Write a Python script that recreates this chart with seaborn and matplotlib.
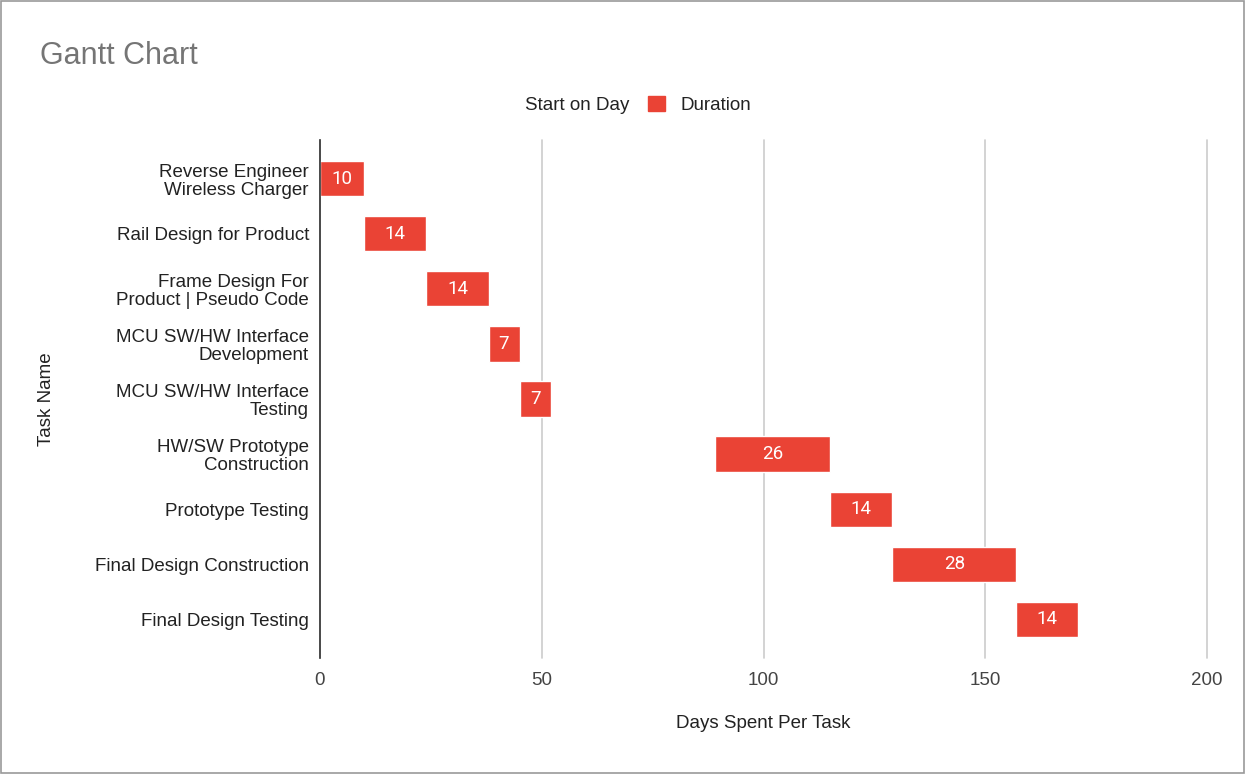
import matplotlib
matplotlib.use("Agg")
import matplotlib.pyplot as plt
import seaborn as sns
import pandas as pd
from matplotlib.patches import Patch, Rectangle

tasks = [
    "Reverse Engineer\nWireless Charger",
    "Rail Design for Product",
    "Frame Design For\nProduct | Pseudo Code",
    "MCU SW/HW Interface\nDevelopment",
    "MCU SW/HW Interface\nTesting",
    "HW/SW Prototype\nConstruction",
    "Prototype Testing",
    "Final Design Construction",
    "Final Design Testing",
]
start_day = [0, 10, 24, 38, 45, 89, 115, 129, 157]
duration = [10, 14, 14, 7, 7, 26, 14, 28, 14]
x_ticks = [0, 50, 100, 150, 200]

RED = "#EA4335"

df = pd.DataFrame({"Task Name": tasks, "Start on Day": start_day, "Duration": duration})

sns.set_theme(style="white")
plt.rcParams["font.family"] = ["Liberation Sans", "DejaVu Sans"]

fig = plt.figure(figsize=(12.45, 7.74), dpi=100)
ax = fig.add_axes([320 / 1245, 1 - 658 / 774, 887 / 1245, (658 - 140) / 774])

sns.barplot(data=df, x="Duration", y="Task Name", orient="h", color=RED,
            left=df["Start on Day"].values, width=0.64, ax=ax, saturation=1,
            estimator="sum", errorbar=None, zorder=3)

for i, (s, d) in enumerate(zip(start_day, duration)):
    ax.text(s + d / 2, i, str(d), ha="center", va="center", color="white",
            fontsize=13.5, family=["Roboto", "DejaVu Sans"], zorder=4)

ax.set_xlim(0, 200)
ax.set_ylim(8.7, -0.7)
ax.set_xticks(x_ticks)
ax.set_xticklabels([str(t) for t in x_ticks])
ax.xaxis.grid(True, color="#cccccc", linewidth=1.2, zorder=0)
for gl in ax.get_xgridlines():
    gl.set_clip_on(False)
ax.yaxis.grid(False)
for sp in ["top", "right", "bottom"]:
    ax.spines[sp].set_visible(False)
ax.spines["left"].set_color("#333333")
ax.spines["left"].set_linewidth(1.2)
ax.spines["left"].set_zorder(5)
ax.tick_params(axis="both", length=0, labelsize=13.5, colors="#222222")
ax.tick_params(axis="x", pad=10, colors="#444444")
ax.tick_params(axis="y", pad=8)
for lbl in ax.get_yticklabels():
    lbl.set_linespacing(1.1)

ax.set_xlabel("Days Spent Per Task", fontsize=13.5, color="#222222")
ax.xaxis.set_label_coords(0.5, -(723 - 658) / 518)
ax.xaxis.label.set_va("center")
ax.set_ylabel("Task Name", fontsize=13.5, color="#222222")
ax.yaxis.set_label_coords(-(320 - 47) / 887, 0.5)
ax.yaxis.label.set_va("center")

fig.text(40 / 1245, 1 - 56 / 774, "Gantt Chart", fontsize=22, color="#757575",
         ha="left", va="center")

handles = [Patch(facecolor="none", edgecolor="none", label="Start on Day"),
           Patch(facecolor=RED, edgecolor=RED, label="Duration")]
fig.legend(handles=handles, loc="center", bbox_to_anchor=(622 / 1245, 1 - 105 / 774),
           ncol=2, frameon=False, fontsize=13.5, handlelength=0.9, handleheight=0.9,
           handletextpad=0.8, columnspacing=1.0, labelcolor="#222222")

fig.patches.append(Rectangle((0.0008, 0.0013), 0.9984, 0.9974, transform=fig.transFigure,
                             fill=False, edgecolor="#999999", linewidth=1.2))

fig.savefig("out.png", dpi=100)
